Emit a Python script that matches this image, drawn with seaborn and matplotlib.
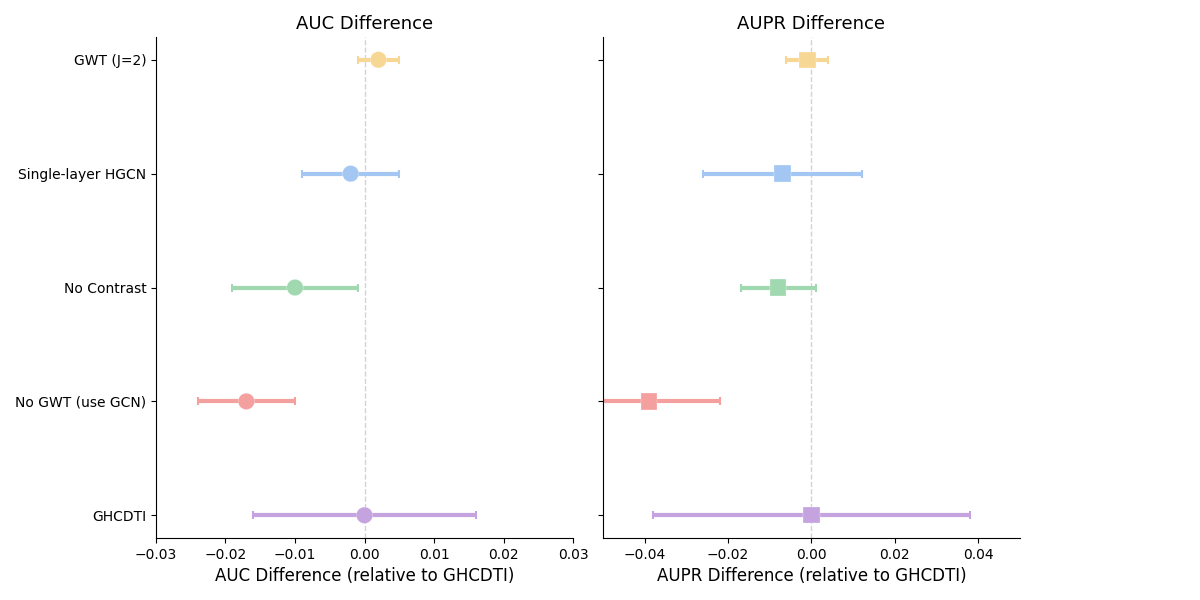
import matplotlib
matplotlib.use("Agg")
import matplotlib.pyplot as plt
import seaborn as sns
import numpy as np
import pandas as pd

models = ["GHCDTI", "No GWT (use GCN)", "No Contrast", "Single-layer HGCN", "GWT (J=2)"]
auc_diff = [0.0, -0.017, -0.010, -0.002, 0.002]
auc_err = [0.016, 0.007, 0.009, 0.007, 0.003]
aupr_diff = [0.0, -0.039, -0.008, -0.007, -0.001]
aupr_err = [0.038, 0.017, 0.009, 0.019, 0.005]
colors = ["#c4a3df", "#f4a09f", "#a0d8b0", "#a3c6f2", "#f7d794"]

df = pd.DataFrame({"model": models, "pos": np.arange(len(models)),
                   "auc": auc_diff, "auc_err": auc_err,
                   "aupr": aupr_diff, "aupr_err": aupr_err})

fig = plt.figure(figsize=(12, 6), dpi=100)
ax1 = fig.add_axes([0.13, 0.1033, 0.3475, 0.835])
ax2 = fig.add_axes([0.5025, 0.1033, 0.3475, 0.835], sharey=ax1)

def panel(ax, col, ecol, marker, title, xlabel, xlim):
    ax.axvline(0, color="lightgray", ls="--", lw=1, zorder=0)
    for i, row in df.iterrows():
        ax.errorbar(row[col], row["pos"], xerr=row[ecol], fmt="none",
                    ecolor=colors[i], elinewidth=3, capsize=3, capthick=1.5, zorder=2)
    sns.scatterplot(data=df, x=col, y="pos", hue="model", palette=colors,
                    marker=marker, s=140, edgecolor="white", linewidth=0.2,
                    legend=False, ax=ax, zorder=3)
    ax.set_xlim(*xlim)
    ax.set_title(title, fontsize=13)
    ax.set_xlabel(xlabel, fontsize=12)
    ax.set_ylabel("")
    sns.despine(ax=ax)

panel(ax1, "auc", "auc_err", "o", "AUC Difference", "AUC Difference (relative to GHCDTI)", (-0.03, 0.03))
panel(ax2, "aupr", "aupr_err", "s", "AUPR Difference", "AUPR Difference (relative to GHCDTI)", (-0.05, 0.05))

ax1.set_xticks([-0.03, -0.02, -0.01, 0.0, 0.01, 0.02, 0.03])
ax2.set_xticks([-0.04, -0.02, 0.0, 0.02, 0.04])
ax1.set_yticks(df["pos"])
ax1.set_yticklabels(models)
ax1.set_ylim(-0.2, 4.2)
plt.setp(ax2.get_yticklabels(), visible=False)

fig.savefig("out.png", dpi=100)
